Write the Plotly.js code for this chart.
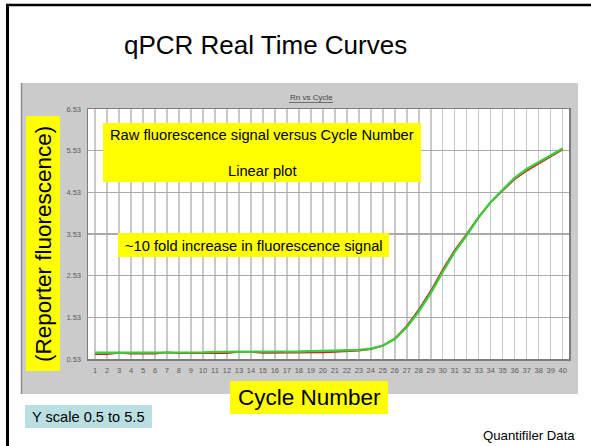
<!DOCTYPE html>
<html><head><meta charset="utf-8">
<script src="https://cdn.plot.ly/plotly-3.0.1.min.js"></script>
<style>html,body{margin:0;padding:0;background:#fff;overflow:hidden}#chart{width:591px;height:446px}</style>
</head><body><div id="chart"></div>
<script>
// ---- data ----
const cycles = [1,2,3,4,5,6,7,8,9,10,11,12,13,14,15,16,17,18,19,20,21,22,23,24,25,26,27,28,29,30,31,32,33,34,35,36,37,38,39,40];
const rnGreen = [0.68,0.68,0.68,0.68,0.68,0.69,0.69,0.69,0.69,0.69,0.70,0.70,0.70,0.70,0.70,0.71,0.71,0.71,0.72,0.72,0.73,0.74,0.75,0.78,0.85,1.01,1.29,1.67,2.11,2.62,3.10,3.50,3.93,4.30,4.60,4.88,5.09,5.26,5.42,5.58];
const rnRed   = [0.65,0.65,0.68,0.66,0.66,0.66,0.69,0.67,0.67,0.67,0.67,0.67,0.70,0.70,0.68,0.68,0.68,0.68,0.69,0.69,0.70,0.72,0.73,0.77,0.85,1.02,1.32,1.71,2.16,2.67,3.14,3.53,3.94,4.29,4.58,4.85,5.05,5.22,5.38,5.56];
const yTickVals = [0.53,1.53,2.53,3.53,4.53,5.53,6.53];
const yTickText = ["0.53","1.53","2.53","3.53","4.53","5.53","6.53"];
const xTickText = cycles.map(String);

const titleText = "qPCR Real Time Curves";
const chartTitle = "Rn vs Cycle";
const noteRaw = "Raw fluorescence signal versus Cycle Number";
const noteLinear = "Linear plot";
const noteFold = "~10 fold increase in fluorescence signal";
const yLabel = "(Reporter fluorescence)";
const xLabel = "Cycle Number";
const scaleNote = "Y scale 0.5 to 5.5";
const sourceNote = "Quantifiler Data";

// ---- layout helpers (pixel -> paper) ----
const W = 591, H = 446, L = 88, R = 22, T = 109, B = 87;
const PW = W - L - R, PH = H - T - B;
const px = x => (x - L) / PW;
const py = y => (H - B - y) / PH;
const FONT = "Liberation Sans, Arial, sans-serif";

function rect(x0, y0, x1, y1, fill, layer, line) {
  return {type:'rect', xref:'paper', yref:'paper', x0:px(x0), x1:px(x1), y0:py(y1), y1:py(y0),
    fillcolor:fill, line: line || {width:0}, layer: layer};
}
function label(text, x, y, size, color, extra) {
  return Object.assign({text:text, xref:'paper', yref:'paper', x:px(x), y:py(y),
    xanchor:'center', yanchor:'middle', showarrow:false,
    font:{family:FONT, size:size, color:color || '#000'}}, extra || {});
}

const shapes = [
  // grey chart panel
  rect(21, 83, 578, 394, '#cbcbcb', 'below'),
  {type:'line', xref:'paper', yref:'paper', x0:px(21.5), x1:px(21.5), y0:py(394), y1:py(83), line:{color:'#8c8c8c', width:1.5}, layer:'below'},
  // white plot area
  rect(L, T, W - R, H - B, '#ffffff', 'below'),
  // slide frame
  {type:'line', xref:'paper', yref:'paper', x0:px(7.5), x1:px(7.5), y0:py(446), y1:py(4), line:{color:'#000', width:3}, layer:'above'},
  {type:'line', xref:'paper', yref:'paper', x0:px(6), x1:px(591), y0:py(5), y1:py(5), line:{color:'#000', width:2.5}, layer:'above'},
  // underline of chart title
  {type:'line', xref:'paper', yref:'paper', x0:px(289), x1:px(333), y0:py(102.5), y1:py(102.5), line:{color:'#555', width:0.8}, layer:'above'},
  // yellow boxes
  rect(103, 123, 421, 182, '#ffff00', 'above'),
  rect(118, 233, 389, 257, '#ffff00', 'above'),
  rect(26, 116, 60, 371, '#ffff00', 'above'),
  rect(230, 381, 388, 414, '#ffff00', 'above'),
  // blue box
  rect(25, 405, 152, 428, '#b9dfe3', 'above')
];

const annotations = [
  label(titleText, 265.5, 45, 26, '#000'),
  label(chartTitle, 311, 98, 8, '#444'),
  label(noteRaw, 261.5, 135, 14.7, '#000'),
  label(noteLinear, 262, 171, 14.7, '#000'),
  label(noteFold, 254, 245.5, 14.7, '#000'),
  label(yLabel, 43, 244, 22.5, '#000', {textangle:-90}),
  label(xLabel, 309.5, 397.5, 22.5, '#000'),
  label(scaleNote, 88, 416.5, 14.6, '#000'),
  label(sourceNote, 529, 435, 13.2, '#000')
];

const traces = [
  {x:cycles, y:rnRed, type:'scatter', mode:'lines', line:{color:'#cc1f1f', width:1.8}, hoverinfo:'skip'},
  {x:cycles, y:rnGreen, type:'scatter', mode:'lines', line:{color:'#3ccc3c', width:2.3}, hoverinfo:'skip'}
];

const layout = {
  width:W, height:H,
  margin:{l:L, r:R, t:T, b:B, pad:0},
  paper_bgcolor:'#ffffff', plot_bgcolor:'rgba(0,0,0,0)',
  showlegend:false,
  xaxis:{range:[0.416, 40.53], tickmode:'array', tickvals:cycles, ticktext:xTickText,
    tickfont:{family:FONT, size:7.5, color:'#5a5a5a'}, tickangle:0,
    showgrid:true, gridcolor:'#c9c9c9', gridwidth:1.5, zeroline:false,
    showline:true, linecolor:'#7d7d7d', linewidth:1.5, mirror:true, ticks:'', ticklabelstandoff:3},
  yaxis:{range:[0.53, 6.53], tickmode:'array', tickvals:yTickVals, ticktext:yTickText,
    tickfont:{family:FONT, size:7.5, color:'#5a5a5a'},
    showgrid:true, gridcolor:'#a9a9a9', gridwidth:1.2, zeroline:false,
    showline:true, linecolor:'#7d7d7d', linewidth:1.5, mirror:true, ticks:'', ticklabelstandoff:4},
  shapes:shapes,
  annotations:annotations
};

Plotly.newPlot('chart', traces, layout, {staticPlot:true, displayModeBar:false});
</script>
</body></html>
